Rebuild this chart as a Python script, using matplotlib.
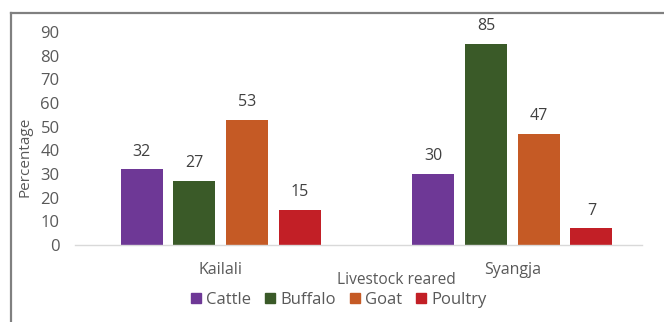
import matplotlib.pyplot as plt
import matplotlib.patches as mpatches
from matplotlib.lines import Line2D
import numpy as np

plt.rcParams['font.family'] = ['Open Sans', 'DejaVu Sans']

districts = ["Kailali", "Syangja"]
livestock = ["Cattle", "Buffalo", "Goat", "Poultry"]
values = {
    "Cattle": [32, 30],
    "Buffalo": [27, 85],
    "Goat": [53, 47],
    "Poultry": [15, 7],
}
colors = ["#6E3896", "#3A5A28", "#C55A25", "#C21F26"]

TXT = "#595959"

fig = plt.figure(figsize=(6.64, 3.22), dpi=100)
ax = fig.add_axes([75/664, 1-245/322, 567/664, 213/322])

x = np.arange(len(districts))
width = 0.144
step = 0.181
for i, (name, c) in enumerate(zip(livestock, colors)):
    pos = x + (i - 1.5) * step
    bars = ax.bar(pos, values[name], width, color=c, label=name, zorder=2)
    for b, v in zip(bars, values[name]):
        ax.annotate(str(v), (b.get_x() + b.get_width()/2, v),
                    xytext=(0, 7), textcoords="offset points",
                    ha="center", va="bottom", fontsize=11.5, color="#404040")

ax.set_ylim(0, 90)
ax.set_xlim(-0.5, 1.445)
ax.set_yticks(range(0, 91, 10))
ax.tick_params(axis="y", length=0, labelsize=12, labelcolor=TXT, pad=11)
ax.set_xticks(x)
ax.set_xticklabels(districts)
ax.tick_params(axis="x", length=0, labelsize=11.5, labelcolor=TXT, pad=12)
for s in ["top", "right", "left"]:
    ax.spines[s].set_visible(False)
ax.spines["bottom"].set_color("#d9d9d9")
ax.spines["bottom"].set_linewidth(1)

fig.text(25/664, 1-157/322, "Percentage", rotation=90, ha="center", va="center",
         fontsize=11, color=TXT)
fig.text(396/664, 1-280/322, "Livestock reared", ha="center", va="center",
         fontsize=11.2, color=TXT)

handles = [mpatches.Patch(color=c, label=n) for n, c in zip(livestock, colors)]
fig.legend(handles=handles, loc="center", bbox_to_anchor=(339/664, 1-300/322),
           ncol=4, frameon=False, fontsize=12, handlelength=0.6, handleheight=0.6,
           handletextpad=0.3, columnspacing=0.85, labelcolor=TXT)

# outer frame lines
fig.add_artist(Line2D([11/664, 1], [1-13/322, 1-13/322], color="#808080", lw=1.6,
                      transform=fig.transFigure))
fig.add_artist(Line2D([11/664, 11/664], [0, 1-13/322], color="#808080", lw=1.6,
                      transform=fig.transFigure))

fig.savefig("out.png", dpi=100)
